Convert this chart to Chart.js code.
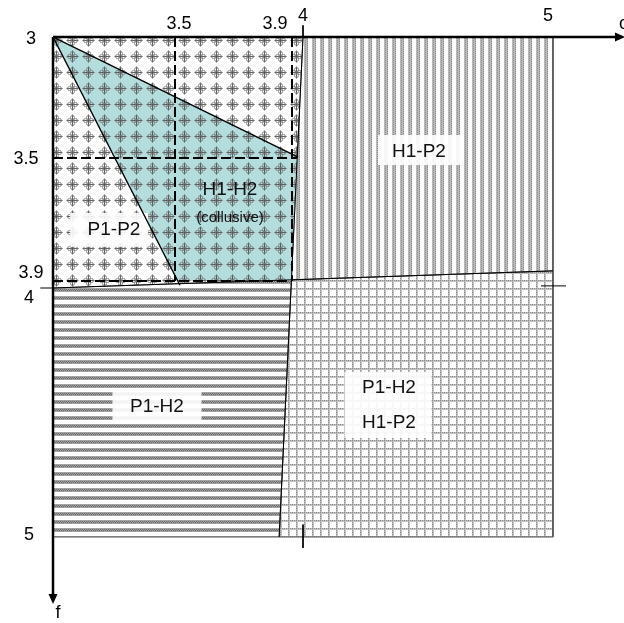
<!DOCTYPE html>
<html>
<head>
<meta charset="utf-8">
<script src="https://cdn.jsdelivr.net/npm/chart.js@4.4.1/dist/chart.umd.min.js"></script>
<style>
  html, body { margin: 0; padding: 0; background: #fff; }
</style>
</head>
<body>
<canvas id="regionChart" width="624" height="623"></canvas>
<script>
// ---- values (c across, f down) ----
const cTicks = [3.5, 3.9, 4, 5];
const fTicks = [3, 3.5, 3.9, 4, 5];

// the drawing is schematic: 3.9 sits almost on 4, so the axes are piecewise
const cKnots = [3, 3.5, 3.9, 4, 5];
const cKnotPos = [0, 122, 239, 250, 500];
const fKnots = [3, 3.5, 3.9, 4, 5];
const fKnotPos = [0, 121, 244, 251, 500];

// corners and boundary points {x: c, y: f}
const origin = {x: 3, y: 3};
const topDiv = {x: 4, y: 3};
const bottomDiv = {x: 3.856, y: 5};
const leftDiv = {x: 3, y: 4};
const rightDiv = {x: 5, y: 3.867};
const crossing = {x: 3.898, y: 3.896};
const cornerTR = {x: 5, y: 3};
const cornerBR = {x: 5, y: 5};
const cornerBL = {x: 3, y: 5};

const regionP1P2 = [origin, topDiv, crossing, leftDiv, origin];
const regionH1P2 = [topDiv, cornerTR, rightDiv, crossing, topDiv];
const regionP1H2 = [leftDiv, crossing, bottomDiv, cornerBL, leftDiv];
const regionBoth = [crossing, rightDiv, cornerBR, bottomDiv, crossing];
const collusive = [origin, {x: 3.955, y: 3.496}, {x: 3.897, y: 3.9}, {x: 3.507, y: 3.9}, origin];

const upperEdge = [origin, {x: 3.955, y: 3.496}];
const lowerEdge = [origin, {x: 3.517, y: 3.96}];
const cDivider = [topDiv, bottomDiv];
const fDivider = [leftDiv, rightDiv];

const dashC35 = [{x: 3.5, y: 3}, {x: 3.5, y: 3.9}];
const dashC39 = [{x: 3.9, y: 3}, {x: 3.9, y: 3.9}];
const dashF35 = [{x: 3, y: 3.5}, {x: 3.945, y: 3.5}];
const dashF39 = [{x: 3, y: 3.9}, {x: 3.9, y: 3.9}];

const tickTop = [{x: 4, y: 2.952}, {x: 4, y: 3}];
const tickBottom = [{x: 4, y: 4.95}, {x: 4, y: 5.044}];
const tickLeft = [{x: 2.948, y: 4}, {x: 3, y: 4}];
const tickRight = [{x: 4.952, y: 3.97}, {x: 5.052, y: 3.97}];

const regionLabels = [
  {text: 'H1-P2', x: 4.464, y: 3.475},
  {text: 'P1-H2', x: 3.426, y: 4.478},
  {text: 'P1-H2', x: 4.344, y: 4.40},
  {text: 'H1-P2', x: 4.344, y: 4.54},
  {text: 'P1-P2', x: 3.25, y: 3.734},
  {text: 'H1-H2', x: 3.688, y: 3.604},
  {text: '(collusive)', x: 3.688, y: 3.695, small: true}
];
const labelBoxes = [
  {x: 4.464, y: 3.467},
  {x: 3.426, y: 4.474},
  {x: 4.34, y: 4.47},
  {x: 3.23, y: 3.734}
];
// box sizes in pixels, same order as labelBoxes
const boxSizes = [[82, 30], [89, 33], [87, 66], [78, 34]];

// tick label nudges [dx, dy] in pixels, where the picture moves a label off its line
const cLabelNudge = {3.5: [4, 0], 3.9: [-17, 0], 4: [0, -8], 5: [-5, -8]};
const fLabelNudge = {3: [1, 2], 3.5: [-4, 1], 3.9: [1, -8], 4: [-1, 10], 5: [-1, -2]};

const FONT = "'Liberation Sans', Arial, sans-serif";

// ---- piecewise linear scale ----
const knotsFor = {
  x: {vals: cKnots, pos: cKnotPos},
  y: {vals: fKnots, pos: fKnotPos}
};

function knotPos(k, v) {
  const a = k.vals, p = k.pos, n = a.length;
  let i = 0;
  if (v <= a[0]) i = 0;
  else if (v >= a[n - 1]) i = n - 2;
  else while (v > a[i + 1]) i++;
  return p[i] + (v - a[i]) * (p[i + 1] - p[i]) / (a[i + 1] - a[i]);
}

class KnotScale extends Chart.LinearScale {
  static id = 'knot';
  getPixelForValue(value) {
    if (value === null || isNaN(value)) return NaN;
    const k = knotsFor[this.axis];
    const lo = knotPos(k, this.min), hi = knotPos(k, this.max);
    return this.getPixelForDecimal((knotPos(k, value) - lo) / (hi - lo));
  }
  getValueForPixel(pixel) {
    const k = knotsFor[this.axis];
    const lo = knotPos(k, this.min), hi = knotPos(k, this.max);
    const target = lo + this.getDecimalForPixel(pixel) * (hi - lo);
    const a = k.vals, p = k.pos;
    let i = 0;
    while (i < p.length - 2 && target > p[i + 1]) i++;
    return a[i] + (target - p[i]) * (a[i + 1] - a[i]) / (p[i + 1] - p[i]);
  }
}
Chart.register(KnotScale);

// ---- fill patterns ----
function makePattern(w, h, paint) {
  const c = document.createElement('canvas');
  c.width = w; c.height = h;
  const g = c.getContext('2d');
  paint(g);
  return g.createPattern(c, 'repeat');
}

const vStripes = makePattern(8, 8, g => {
  g.fillStyle = '#fff'; g.fillRect(0, 0, 8, 8);
  g.fillStyle = '#b9b9b9'; g.fillRect(0, 0, 4, 8);
  g.fillStyle = '#8a8a8a';
  for (let y = 0; y < 8; y += 2) { g.fillRect(1, y, 1, 1); g.fillRect(3, y + 1, 1, 1); }
});

const hStripes = makePattern(8, 8, g => {
  g.fillStyle = '#fff'; g.fillRect(0, 0, 8, 8);
  g.fillStyle = '#a4a4a4'; g.fillRect(0, 0, 8, 4);
  g.fillStyle = '#666';
  for (let x = 0; x < 8; x += 2) { g.fillRect(x, 1, 1, 1); g.fillRect(x + 1, 2, 1, 1); }
});

const gridPat = makePattern(8, 8, g => {
  g.fillStyle = '#fff'; g.fillRect(0, 0, 8, 8);
  g.fillStyle = '#c0c0c0'; g.fillRect(0, 0, 2, 8); g.fillRect(0, 0, 8, 2);
  g.fillStyle = '#8c8c8c';
  for (let i = 0; i < 8; i += 2) { g.fillRect(0, i, 1, 1); g.fillRect(i, 0, 1, 1); }
});

const rosette = makePattern(16, 16, g => {
  g.strokeStyle = 'rgba(80,80,80,0.9)';
  g.lineWidth = 1;
  g.beginPath();
  g.moveTo(8.5, 2.5); g.lineTo(8.5, 14.5);
  g.moveTo(2.5, 8.5); g.lineTo(14.5, 8.5);
  g.stroke();
  g.strokeStyle = 'rgba(115,115,115,0.85)';
  [[8.5, 5.5], [8.5, 11.5], [5.5, 8.5], [11.5, 8.5]].forEach(([cx, cy]) => {
    g.beginPath(); g.arc(cx, cy, 2, 0, Math.PI * 2); g.stroke();
  });
});

// ---- datasets ----
function area(label, data, fillStyle, order, withBorder) {
  return {
    label, data, showLine: true, fill: 'shape',
    backgroundColor: fillStyle,
    borderColor: withBorder ? '#555' : 'rgba(0,0,0,0)',
    borderWidth: withBorder ? 1 : 0,
    pointRadius: 0, order
  };
}
function segment(label, data, width, dash, order, clip) {
  return {
    label, data, showLine: true, fill: false,
    borderColor: '#000', borderWidth: width, borderDash: dash || [],
    pointRadius: 0, order, clip: clip === false ? false : undefined
  };
}

const datasets = [
  area('H1-P2', regionH1P2, vStripes, 20, true),
  area('P1-H2', regionP1H2, hStripes, 20, true),
  area('both', regionBoth, gridPat, 20, true),
  area('collusive', collusive, '#b4dede', 15, false),
  area('P1-P2', regionP1P2, rosette, 12, false),
  segment('dash c 3.5', dashC35, 2, [10, 4], 6),
  segment('dash c 3.9', dashC39, 2, [10, 4], 6),
  segment('dash f 3.5', dashF35, 2, [10, 4], 6),
  segment('dash f 3.9', dashF39, 2, [10, 4], 6),
  segment('upper edge', upperEdge, 1.4, null, 4),
  segment('lower edge', lowerEdge, 1.4, null, 4),
  segment('c divider', cDivider, 1, null, 4),
  segment('f divider', fDivider, 1, null, 4),
  segment('tick top', tickTop, 1, null, 4, false),
  segment('tick bottom', tickBottom, 1, null, 4, false),
  segment('tick left', tickLeft, 1, null, 4, false),
  segment('tick right', tickRight, 1, null, 4, false)
];

// white boxes behind the labels, painted right after the last pattern fill
const boxPlugin = {
  id: 'labelBoxes',
  afterDatasetDraw(chart, args) {
    if (chart.data.datasets[args.index].label !== 'P1-P2') return;
    const ctx = chart.ctx, xs = chart.scales.x, ys = chart.scales.y;
    ctx.save();
    ctx.fillStyle = 'rgba(255,255,255,0.9)';
    labelBoxes.forEach((b, i) => {
      const [w, h] = boxSizes[i];
      const px = xs.getPixelForValue(b.x), py = ys.getPixelForValue(b.y);
      ctx.fillRect(px - w / 2, py - h / 2, w, h);
    });
    ctx.restore();
  }
};

const axisPlugin = {
  id: 'axesAndText',
  afterDraw(chart) {
    const ctx = chart.ctx, xs = chart.scales.x, ys = chart.scales.y;
    const area = chart.chartArea;
    const x0 = xs.getPixelForValue(3), y0 = ys.getPixelForValue(3);
    ctx.save();

    // axes with arrow heads
    ctx.strokeStyle = '#000'; ctx.fillStyle = '#000'; ctx.lineWidth = 2.5;
    ctx.beginPath();
    ctx.moveTo(x0, y0); ctx.lineTo(area.right - 4, y0);
    ctx.moveTo(x0, y0); ctx.lineTo(x0, area.bottom - 5);
    ctx.stroke();
    ctx.beginPath();
    ctx.moveTo(area.right + 3, y0); ctx.lineTo(area.right - 7, y0 - 4.5); ctx.lineTo(area.right - 7, y0 + 4.5);
    ctx.closePath(); ctx.fill();
    ctx.beginPath();
    ctx.moveTo(x0, area.bottom + 2); ctx.lineTo(x0 - 4.5, area.bottom - 8); ctx.lineTo(x0 + 4.5, area.bottom - 8);
    ctx.closePath(); ctx.fill();

    // tick labels
    ctx.textAlign = 'center'; ctx.textBaseline = 'middle';
    ctx.font = '18px ' + FONT;
    cTicks.forEach(v => {
      const [dx, dy] = cLabelNudge[v] || [0, 0];
      ctx.fillText(String(v), xs.getPixelForValue(v) + dx, y0 - 13 + dy);
    });
    fTicks.forEach(v => {
      const [dx, dy] = fLabelNudge[v] || [0, 0];
      ctx.fillText(String(v), x0 - 23 + dx, ys.getPixelForValue(v) + dy);
    });

    // axis names
    ctx.textAlign = 'left';
    ctx.fillText('c', area.right - 3, y0 - 13);
    ctx.textAlign = 'center';
    ctx.fillText('f', x0 + 5, area.bottom + 11);

    // region labels
    regionLabels.forEach(l => {
      ctx.font = (l.small ? '15px ' : '19px ') + FONT;
      ctx.fillStyle = '#111';
      ctx.fillText(l.text, xs.getPixelForValue(l.x), ys.getPixelForValue(l.y));
    });
    ctx.restore();
  }
};

new Chart(document.getElementById('regionChart'), {
  type: 'scatter',
  data: {datasets},
  options: {
    responsive: false,
    animation: false,
    events: [],
    layout: {padding: {left: 53, top: 37, right: 2, bottom: 21}},
    scales: {
      x: {type: 'knot', min: 3, max: 5.276, display: false},
      y: {type: 'knot', min: 3, max: 5.261, reverse: true, display: false}
    },
    plugins: {legend: {display: false}, tooltip: {enabled: false}}
  },
  plugins: [boxPlugin, axisPlugin]
});
</script>
</body>
</html>
